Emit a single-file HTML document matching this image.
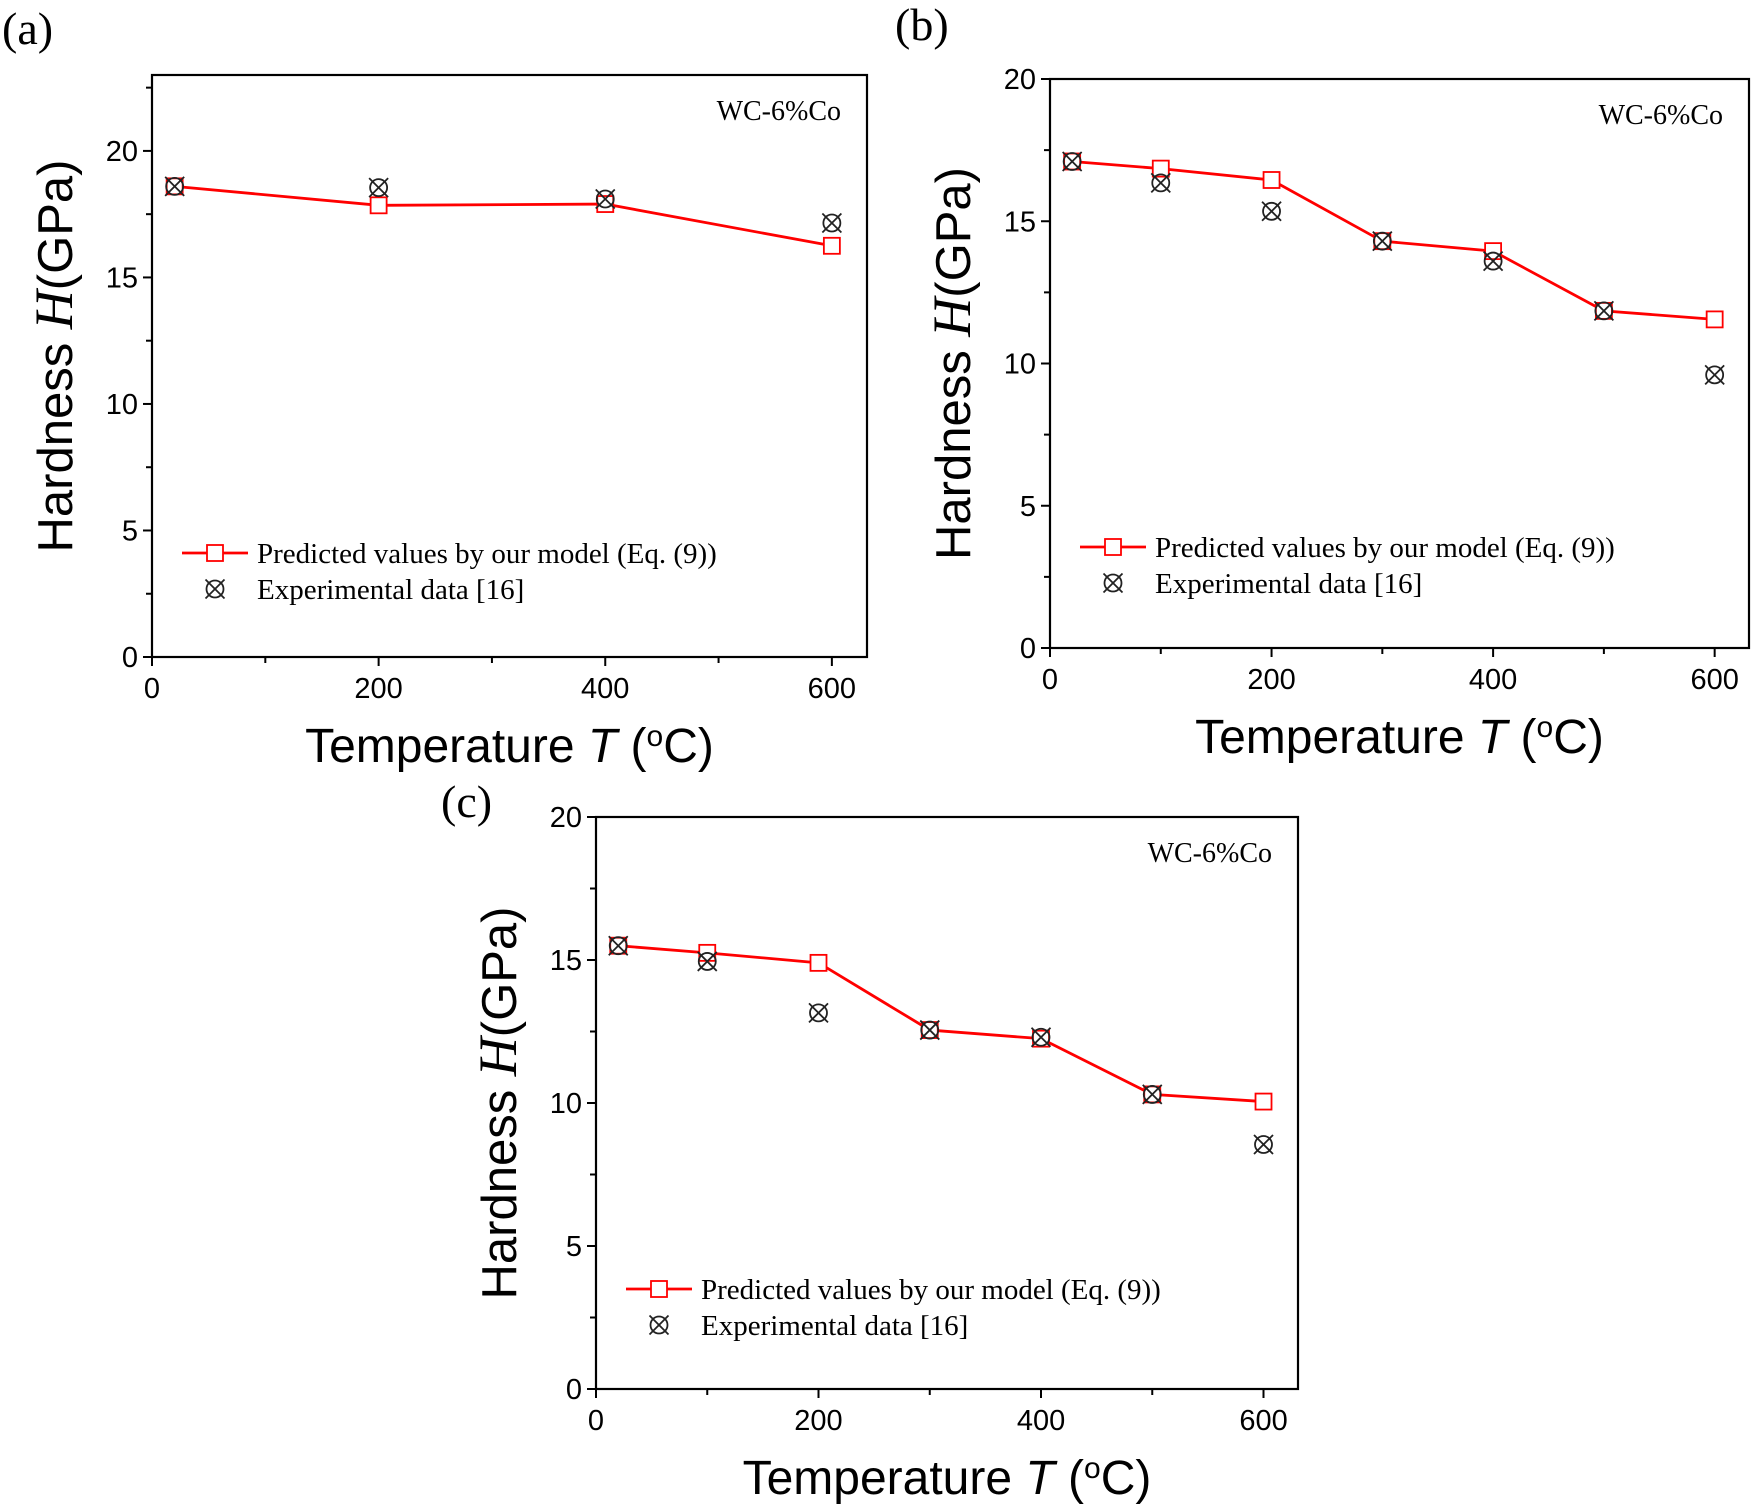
<!DOCTYPE html>
<html><head><meta charset="utf-8"><style>
html,body{margin:0;padding:0;background:#fff;}
svg{display:block;}
</style></head><body>
<svg id="fig" width="1753" height="1508" viewBox="0 0 1753 1508" xmlns="http://www.w3.org/2000/svg"></svg>
<script>
// ---- data ----
const tempsA = [20, 200, 400, 600];
const predA = [18.6, 17.85, 17.9, 16.25];
const expA = [18.6, 18.55, 18.1, 17.15];
const tempsB = [20, 100, 200, 300, 400, 500, 600];
const predB = [17.1, 16.85, 16.45, 14.3, 13.95, 11.85, 11.55];
const expB = [17.1, 16.35, 15.35, 14.3, 13.6, 11.85, 9.6];
const tempsC = [20, 100, 200, 300, 400, 500, 600];
const predC = [15.5, 15.25, 14.9, 12.55, 12.25, 10.3, 10.05];
const expC = [15.5, 14.95, 13.15, 12.55, 12.3, 10.3, 8.55];
const xTickLabels = [0, 200, 400, 600];
const yTickLabels = [0, 5, 10, 15, 20];
const legendLabels = ["Predicted values by our model (Eq. (9))", "Experimental data [16]"];

const NS = "http://www.w3.org/2000/svg";
const svg = document.getElementById('fig');
function mk(tag, attrs, parent){
  const e = document.createElementNS(NS, tag);
  for (const k in attrs) e.setAttribute(k, attrs[k]);
  (parent||svg).appendChild(e);
  return e;
}

function panel(p){
  const g = mk('g', {});
  
  
  const xs = v => p.L + (v - 0) / p.xmax * (p.R - p.L);
  const ys = v => p.B - v / p.ymax * (p.B - p.T);
  const fr = mk('rect', {x:p.L, y:p.T, width:p.R-p.L, height:p.B-p.T, fill:'none', stroke:'#000', 'stroke-width':2.2}, g);
  
  
  for (let v = 0; v <= p.ymax + 1e-6; v += 2.5){
    const major = Math.abs(v % 5) < 1e-6;
    mk('line', {x1:p.L, x2:p.L - (major?9:6), y1:ys(v), y2:ys(v), stroke:'#000', 'stroke-width':2}, g);
  }
  yTickLabels.forEach(v => {
    const t = mk('text', {x:p.L - 14, y:ys(v) + 10, 'text-anchor':'end', 'font-size':29, 'font-family':'Liberation Sans, sans-serif'}, g);
    t.textContent = v;
    
    
  });
  for (let v = 0; v <= 600; v += 100){
    const major = v % 200 === 0;
    mk('line', {x1:xs(v), x2:xs(v), y1:p.B, y2:p.B + (major?9:6), stroke:'#000', 'stroke-width':2}, g);
  }
  xTickLabels.forEach(v => {
    const t = mk('text', {x:xs(v), y:p.B + 41, 'text-anchor':'middle', 'font-size':29, 'font-family':'Liberation Sans, sans-serif'}, g);
    t.textContent = v;
    
    
  });
  const xt = mk('text', {x:(p.L+p.R)/2, y:p.B + 105, 'text-anchor':'middle', 'font-size':48, 'font-family':'Liberation Sans, sans-serif'}, g);
  xt.innerHTML = 'Temperature <tspan font-style="italic">T</tspan> (<tspan font-size="30" dy="-16">o</tspan><tspan dy="16">C)</tspan>';
  
  
  const yt = mk('text', {x:0, y:0, 'text-anchor':'middle', 'font-size':49, 'font-family':'Liberation Sans, sans-serif', transform:`translate(${p.L - 80},${(p.T+p.B)/2 + p.ytOff}) rotate(-90)`}, g);
  yt.innerHTML = 'Hardness <tspan font-family="Liberation Serif, serif" font-style="italic" font-size="54"> H</tspan>(GPa)';
  
  
  const pl = mk('text', {x:p.labX, y:p.labY, 'font-size':46, 'font-family':'Liberation Serif, serif'}, g);
  pl.textContent = '(' + p.id + ')';
  
  
  const an = mk('text', {x:p.R - 26, y:p.T + 45, 'text-anchor':'end', 'font-size':28, 'font-family':'Liberation Serif, serif'}, g);
  an.textContent = 'WC-6%Co';
  
  
  const pts = p.temps.map((t,i) => xs(t) + ',' + ys(p.pred[i])).join(' ');
  const pl2 = mk('polyline', {points:pts, fill:'none', stroke:'#ff0000', 'stroke-width':2.8}, g);
  
  
  function expMarker(cx, cy, parent){
    const m = mk('g', {}, parent);
    mk('circle', {cx:cx, cy:cy, r:8.5, fill:'none', stroke:'#222', 'stroke-width':1.8}, m);
    mk('line', {x1:cx-9.5, y1:cy-9.5, x2:cx+9.5, y2:cy+9.5, stroke:'#222', 'stroke-width':1.8}, m);
    mk('line', {x1:cx+9.5, y1:cy-9.5, x2:cx-9.5, y2:cy+9.5, stroke:'#222', 'stroke-width':1.8}, m);
    return m;
  }
  function sqMarker(cx, cy, parent){
    return mk('rect', {x:cx-8, y:cy-8, width:16, height:16, fill:'#fff', stroke:'#ff0000', 'stroke-width':1.8}, parent);
  }
  p.temps.forEach((t,i) => {
    const s = sqMarker(xs(t), ys(p.pred[i]), g);
    
    
  });
  p.temps.forEach((t,i) => {
    const m = expMarker(xs(t), ys(p.exp[i]), g);
    
    
  });
  const lg = mk('g', {}, g);
  
  
  mk('line', {x1:p.lgX, x2:p.lgX+66, y1:p.lgY, y2:p.lgY, stroke:'#ff0000', 'stroke-width':2.8}, lg);
  sqMarker(p.lgX+33, p.lgY, lg);
  const l1 = mk('text', {x:p.lgX+75, y:p.lgY+10, 'font-size':29, 'font-family':'Liberation Serif, serif'}, lg);
  l1.textContent = legendLabels[0];
  
  
  expMarker(p.lgX+33, p.lgY+36, lg);
  const l2 = mk('text', {x:p.lgX+75, y:p.lgY+46, 'font-size':29, 'font-family':'Liberation Serif, serif'}, lg);
  l2.textContent = legendLabels[1];
  
  
}

panel({id:'a', L:152, R:867, T:75, B:657, xmax:631, ymax:23, temps:tempsA, pred:predA, exp:expA, labX:2, labY:44, lgX:182, lgY:553, ytOff:-10});
panel({id:'b', L:1050, R:1749, T:79, B:648, xmax:631, ymax:20, temps:tempsB, pred:predB, exp:expB, labX:895, labY:40, lgX:1080, lgY:547, ytOff:0});
panel({id:'c', L:596, R:1298, T:817, B:1389, xmax:631, ymax:20, temps:tempsC, pred:predC, exp:expC, labX:441, labY:817, lgX:626, lgY:1289, ytOff:0});
</script>
</body></html>
